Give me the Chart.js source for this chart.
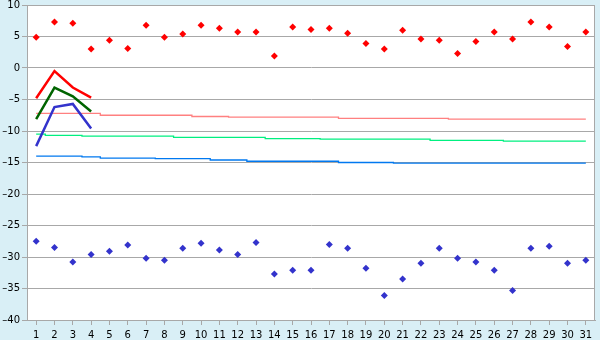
<!DOCTYPE html>
<html>
<head>
<meta charset="utf-8">
<script src="https://cdn.jsdelivr.net/npm/chart.js@4"></script>
<style>
  body { margin: 0; background: #d9eff6; }
</style>
</head>
<body>
<canvas id="tempChart" width="600" height="340"></canvas>
<script>
var days = [];
for (var d = 1; d <= 31; d++) days.push(String(d));

// daily extremes
var maxTemps = [4.9, 7.3, 7.1, 3.0, 4.4, 3.1, 6.8, 4.9, 5.4, 6.8,
  6.3, 5.7, 5.7, 1.9, 6.5, 6.1, 6.3, 5.5, 3.9, 3.0,
  6.0, 4.6, 4.4, 2.3, 4.2, 5.7, 4.6, 7.3, 6.5, 3.4, 5.7];
var minTemps = [-27.5, -28.5, -30.8, -29.6, -29.1, -28.1, -30.2, -30.5, -28.6, -27.8,
  -28.9, -29.6, -27.7, -32.7, -32.1, -32.1, -28.0, -28.6, -31.8, -36.1,
  -33.5, -31.0, -28.6, -30.2, -30.8, -32.1, -35.3, -28.6, -28.3, -31.0, -30.5];

// current month (first days only)
var curMax = [-4.8, -0.5, -3.1, -4.7];
var curMean = [-8.1, -3.1, -4.5, -6.9];
var curMin = [-12.4, -6.2, -5.7, -9.6];

// long term normals
var normMax = [-7.2, -7.2, -7.2, -7.2, -7.5, -7.5, -7.5, -7.5, -7.5, -7.7,
  -7.7, -7.8, -7.8, -7.8, -7.8, -7.8, -7.8, -8.0, -8.0, -8.0,
  -8.0, -8.0, -8.0, -8.1, -8.1, -8.1, -8.1, -8.1, -8.1, -8.1, -8.1];
var normMean = [-10.5, -10.7, -10.7, -10.8, -10.8, -10.8, -10.8, -10.8, -11.0, -11.0,
  -11.0, -11.0, -11.0, -11.2, -11.2, -11.2, -11.3, -11.3, -11.3, -11.3,
  -11.3, -11.3, -11.5, -11.5, -11.5, -11.5, -11.6, -11.6, -11.6, -11.6, -11.6];
var normMin = [-14.0, -14.0, -14.0, -14.1, -14.3, -14.3, -14.3, -14.4, -14.4, -14.4,
  -14.6, -14.6, -14.8, -14.8, -14.8, -14.8, -14.8, -15.0, -15.0, -15.0,
  -15.1, -15.1, -15.1, -15.1, -15.1, -15.1, -15.1, -15.1, -15.1, -15.1, -15.1];

var plotBox = {
  id: "plotBox",
  beforeDraw: function (chart) {
    var a = chart.chartArea, c = chart.ctx;
    c.save();
    c.fillStyle = "#ffffff";
    c.fillRect(a.left, a.top, a.right - a.left, a.bottom - a.top);
    c.restore();
  },
  afterDraw: function (chart) {
    var a = chart.chartArea, c = chart.ctx;
    c.save();
    c.strokeStyle = "#a8a8a8";
    c.lineWidth = 1;
    c.strokeRect(a.left + 0.5, a.top + 0.5, a.right - a.left - 1, a.bottom - a.top);
    c.restore();
  }
};

function thin(data, color) {
  return { data: data, borderColor: color, borderWidth: 1.3, pointRadius: 0,
    stepped: "middle", fill: false, order: 3 };
}
function thick(data, color) {
  return { data: data, borderColor: color, borderWidth: 2.5, pointRadius: 0,
    tension: 0, fill: false, order: 2 };
}
function dots(data, color) {
  return { data: data, showLine: false, pointStyle: "rectRot", pointRadius: 3.5,
    pointBackgroundColor: color, pointBorderColor: color, pointBorderWidth: 0, order: 1 };
}

var ctx = document.getElementById("tempChart").getContext("2d");
var myChart = new Chart(ctx, {
  type: "line",
  data: {
    labels: days,
    datasets: [
      dots(maxTemps, "#ff0000"),
      dots(minTemps, "#3333cc"),
      thick(curMax, "#ff0000"),
      thick(curMean, "#006400"),
      thick(curMin, "#3333cc"),
      thin(normMax, "#ff8080"),
      thin(normMean, "#00f080"),
      thin(normMin, "#0078f0"),
    ],
  },
  options: {
    responsive: false,
    animation: false,
    layout: { padding: { top: 5, right: 5, left: 0, bottom: 0 } },
    plugins: { legend: { display: false }, tooltip: { enabled: false } },
    scales: {
      x: {
        offset: true,
        grid: { drawOnChartArea: false, color: "#a8a8a8", tickLength: 5 },
        border: { color: "#a8a8a8" },
        ticks: { color: "#000", font: { family: "DejaVu Sans", size: 10 }, padding: 4,
          maxRotation: 0, autoSkip: false },
        afterFit: function (s) { s.height = 20; },
      },
      y: {
        min: -40,
        max: 10,
        grid: { color: "#a8a8a8", tickLength: 5 },
        border: { color: "#a8a8a8" },
        ticks: {
          stepSize: 5,
          color: "#000",
          padding: 2,
          font: { family: "DejaVu Sans", size: 10 },
          callback: function (v) { return String(v).replace("-", "\u2013"); },
        },
        afterFit: function (s) { s.width = 27; s.paddingTop = 0; s.paddingBottom = 0; },
      },
    },
  },
  plugins: [plotBox],
});
</script>
</body>
</html>
